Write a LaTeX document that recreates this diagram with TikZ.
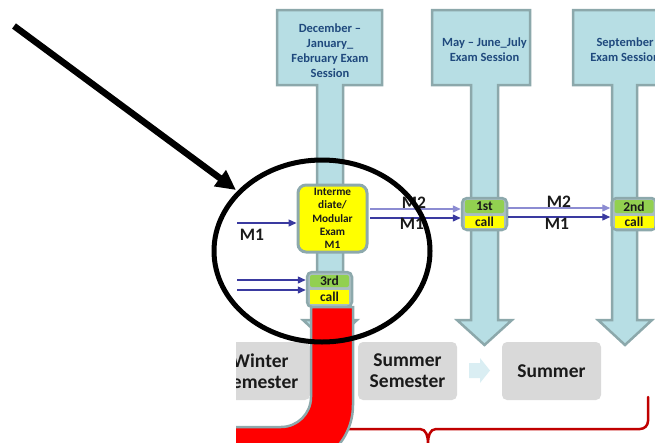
\documentclass[tikz,border=0pt]{standalone}
\usepackage{fontspec}
\setmainfont{Carlito}
\usetikzlibrary{arrows.meta,calc}
\definecolor{calloutfill}{HTML}{B7DEE4}
\definecolor{calloutedge}{HTML}{8CA8AB}
\definecolor{calltext}{HTML}{1F497D}
\definecolor{boxedge}{HTML}{8DA9AC}
\definecolor{callgreen}{HTML}{92D050}
\definecolor{callyellow}{HTML}{FFFF00}
\definecolor{darkline}{HTML}{3A3AA0}
\definecolor{lightline}{HTML}{8C8CD2}
\definecolor{semgray}{HTML}{D9D9D9}
\definecolor{paleblue}{HTML}{DAEEF3}
\definecolor{bracered}{HTML}{C00000}
\definecolor{jred}{HTML}{FF0000}
\definecolor{labelblack}{HTML}{1A1A1A}
\tikzset{
  calloutshape/.style={fill=calloutfill, draw=calloutedge, line width=2.5pt, line join=miter},
  callouttxt/.style={text=calltext, font=\bfseries\fontsize{12.5}{15}\selectfont, align=center, inner sep=0pt},
  interbox/.style={fill=callyellow, draw=boxedge, line width=3pt, rounded corners=8pt,
    minimum width=69pt, minimum height=67pt, inner sep=0pt, align=center,
    font=\bfseries\fontsize{11.3}{13.4}\selectfont, text=labelblack},
  callouter/.style={fill=boxedge!75, draw=boxedge, line width=2.5pt, rounded corners=5pt,
    minimum width=45pt, inner sep=0pt},
  greenpart/.style={fill=callgreen, minimum width=39pt, inner sep=0pt, rounded corners=2pt,
    font=\bfseries\fontsize{13.5}{13}\selectfont, text=labelblack},
  yellowpart/.style={fill=callyellow, minimum width=39pt, inner sep=0pt,
    font=\bfseries\fontsize{13.5}{13}\selectfont, text=labelblack},
  flow/.style={line width=1.4pt, -{Triangle[length=8pt,width=7pt]}},
  mlabel/.style={font=\bfseries\fontsize{17.5}{17.5}\selectfont, text=labelblack, inner sep=0pt},
  semester/.style={fill=semgray, rounded corners=5pt, minimum width=99pt, minimum height=58pt,
    inner sep=0pt, align=center, font=\bfseries\fontsize{19.5}{21}\selectfont, text=labelblack},
}
\begin{document}
\begin{tikzpicture}[x=1pt,y=-1pt]
\useasboundingbox (0,0) rectangle (655,442);
\begin{scope}
\clip (236,0) rectangle (655,442);
% callouts
\draw[calloutshape] (277,10) -- (382,10) -- (382,85) -- (343,85) -- (343,320) -- (357,320)
  -- (330,345) -- (303,320) -- (317,320) -- (317,85) -- (277,85) -- cycle;
\draw[calloutshape] (432,10) -- (530,10) -- (530,85) -- (498,85) -- (498,320) -- (512,320)
  -- (484.5,345) -- (457,320) -- (471,320) -- (471,85) -- (432,85) -- cycle;
\draw[calloutshape] (573,10) -- (680,10) -- (680,85) -- (637,85) -- (637,320) -- (652,320)
  -- (625,345) -- (598,320) -- (612,320) -- (612,85) -- (573,85) -- cycle;
\node[callouttxt] (t1) at (330,51) {December –\\January\_\\February Exam\\Session};
\node[callouttxt] (t2) at (484.5,50) {May – June\_July\\Exam Session};
\node[callouttxt] (t3) at (625,50) {September\\Exam Session};
% intermediate box
\node[interbox] (inter) at (332.5,218.5) {Interme\\diate/\\Modular\\Exam\\M1};
% call boxes
\node[callouter, minimum height=32pt] (c1) at (484.5,214) {};
\node[greenpart, minimum height=13pt] (c1g) at (484.5,206.5) {1st};
\node[yellowpart, minimum height=12pt] (c1y) at (484.5,222) {call};
\node[callouter, minimum height=32pt] (c2) at (634,214) {};
\node[greenpart, minimum height=13pt] (c2g) at (634,206.5) {2nd};
\node[yellowpart, minimum height=12pt] (c2y) at (634,222) {call};
\node[callouter, minimum height=35pt] (c3) at (329.5,289.5) {};
\node[greenpart, minimum height=12pt] (c3g) at (329.5,281) {3rd};
\node[yellowpart, minimum height=14pt] (c3y) at (329.5,297) {call};
% flows
\coordinate (a1) at (237,223);
\draw[flow,darkline] (a1) -- (a1 -| inter.west);
\coordinate (b2) at (370,209);
\coordinate (b1) at (370,218);
\draw[flow,lightline] (b2) -- (b2 -| c1.west);
\draw[flow,darkline] (b1) -- (b1 -| c1.west);
\coordinate (e2) at (508,208);
\coordinate (e1) at (508,217);
\draw[flow,lightline] (e2) -- (e2 -| c2.west);
\draw[flow,darkline] (e1) -- (e1 -| c2.west);
\coordinate (f1) at (237,280);
\coordinate (f2) at (237,290);
\draw[flow,darkline] (f1) -- (f1 -| c3.west);
\draw[flow,darkline] (f2) -- (f2 -| c3.west);
% labels
\node[mlabel] (lm1a) at (252,235) {M1};
\node[mlabel] (lm2b) at (414,203) {M2};
\node[mlabel] (lm1b) at (412,223.5) {M1};
\node[mlabel] (lm2c) at (559,202) {M2};
\node[mlabel] (lm1c) at (557,223.5) {M1};
% semesters
\node[semester] (winter) at (260.5,371) {Winter\\Semester};
\node[semester] (summersem) at (407.5,371) {Summer\\Semester};
\node[semester] (summer) at (551.5,371) {Summer};
\fill[paleblue] (469,363) -- (480,363) -- (480,358) -- (490,370.5) -- (480,383) -- (480,378) -- (469,378) -- cycle;
% brace
\draw[bracered, line width=2.5pt, line cap=round]
  (330,429) -- (420,429) to[out=0,in=90] (428,443) to[out=90,in=180] (436,429)
  -- (640,429) to[out=0,in=-90] (648,421) -- (648,397);
% red J
\draw[fill=jred, draw=boxedge, line width=2.5pt]
  (311,307) -- (311,397) arc[start angle=0, end angle=90, radius=30] -- (200,427) -- (200,480)
  -- (290,480) -- (290,468) arc[start angle=90, end angle=0, radius=63] -- (353,307) -- cycle;
\end{scope}
% ellipse and pointer
\draw[line width=5pt] (322,251) ellipse [x radius=108, y radius=91];
\coordinate (ps) at (14,26);
\coordinate (pe) at (236,190);
\draw[line width=6.5pt, -{Triangle[length=20pt,width=19pt]}] (ps) -- (pe);
\end{tikzpicture}
\end{document}
